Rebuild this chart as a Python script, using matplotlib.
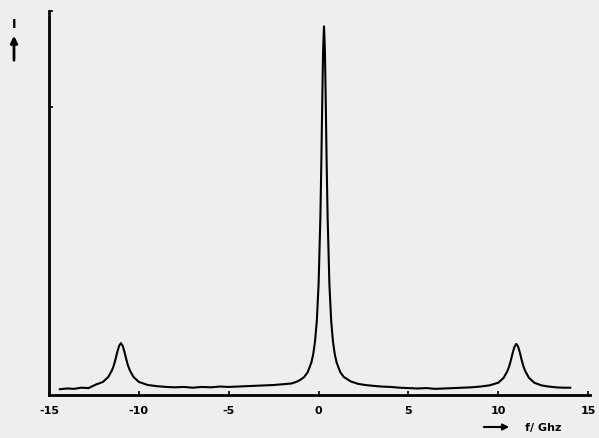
import matplotlib
matplotlib.use("Agg")
import matplotlib.pyplot as plt

# spectrum (f in GHz, intensity in arbitrary units)
freq = [-14.4, -14.0, -13.6, -13.2, -12.8, -12.4, -12.0, -11.7, -11.5, -11.4,
        -11.3, -11.2, -11.1, -11.0, -10.9, -10.8, -10.7, -10.6, -10.5, -10.3,
        -10.0, -9.5, -9.0, -8.5, -8.0, -7.5, -7.0, -6.5, -6.0, -5.5,
        -5.0, -4.5, -4.0, -3.5, -3.0, -2.5, -2.0, -1.5, -1.2, -1.0,
        -0.8, -0.6, -0.4, -0.3, -0.2, -0.1, 0.0, 0.1, 0.15, 0.2,
        0.25, 0.3, 0.35, 0.4, 0.45, 0.5, 0.6, 0.7, 0.8, 0.9,
        1.0, 1.2, 1.4, 1.8, 2.2, 2.6, 3.0, 3.5, 4.0, 4.5,
        5.0, 5.5, 6.0, 6.5, 7.0, 7.5, 8.0, 8.5, 9.0, 9.5,
        10.0, 10.3, 10.5, 10.6, 10.7, 10.8, 10.9, 11.0, 11.1, 11.2,
        11.3, 11.4, 11.5, 11.7, 12.0, 12.4, 12.8, 13.2, 13.6, 14.0]
intensity = [1.5, 1.7, 1.6, 1.9, 1.8, 2.7, 3.4, 4.7, 6.4, 7.6,
             9.3, 11.2, 12.8, 13.5, 12.8, 11.2, 9.3, 7.6, 6.4, 4.7,
             3.4, 2.6, 2.3, 2.1, 2.0, 2.1, 1.9, 2.1, 2.0, 2.2,
             2.1, 2.2, 2.3, 2.4, 2.5, 2.6, 2.8, 3.0, 3.5, 4.0,
             4.7, 6.0, 8.5, 10.6, 13.9, 19.3, 28.9, 46.6, 59.9, 75.6,
             89.9, 96.0, 89.9, 75.6, 59.9, 46.6, 28.9, 19.3, 13.9, 10.6,
             8.5, 6.0, 4.7, 3.5, 2.9, 2.6, 2.4, 2.2, 2.1, 1.9,
             1.8, 1.7, 1.8, 1.6, 1.7, 1.8, 1.9, 2.0, 2.2, 2.5,
             3.2, 4.5, 6.2, 7.4, 9.1, 11.0, 12.6, 13.3, 12.6, 11.0,
             9.1, 7.4, 6.2, 4.5, 3.2, 2.5, 2.2, 2.0, 1.9, 1.9]

xticks = [-15, -10, -5, 0, 5, 10, 15]
xticklabels = ["-15", "-10", "-5", "0", "5", "10", "15"]

W, H = 599, 439
bg = "#eeeeee"
fig = plt.figure(figsize=(W / 100, H / 100), dpi=100, facecolor=bg)
ax = fig.add_axes([49 / W, 43 / H, 541 / W, 384 / H], facecolor=bg)

ax.plot(freq, intensity, color="black", lw=1.5)

ax.set_xlim(-15, 15.1)
ax.set_ylim(0, 100)
ax.spines["top"].set_visible(False)
ax.spines["right"].set_visible(False)
ax.spines["left"].set_linewidth(2.0)
ax.spines["bottom"].set_linewidth(2.0)

ax.set_xticks(xticks)
ax.set_xticklabels(xticklabels, fontsize=8, fontweight="bold")
ax.tick_params(axis="x", direction="in", length=3, width=1.2, pad=7)
ax.set_yticks([75, 100])
ax.set_yticklabels([])
ax.tick_params(axis="y", direction="in", length=3, width=1.2)

# axis labels with arrows, placed in figure pixels like the scan
ax.annotate("", xy=(14 / W, 1 - 34 / H), xytext=(14 / W, 1 - 64 / H),
            xycoords="figure fraction",
            arrowprops=dict(arrowstyle="-|>", color="black", lw=2, mutation_scale=10))
fig.text(14 / W, 1 - 25 / H, "I", fontsize=9, fontweight="bold", ha="center", va="center")

ax.annotate("", xy=(512 / W, 1 - 428 / H), xytext=(481 / W, 1 - 428 / H),
            xycoords="figure fraction",
            arrowprops=dict(arrowstyle="-|>", color="black", lw=1.5, mutation_scale=9))
fig.text(525 / W, 1 - 428 / H, "f/ Ghz", fontsize=8, fontweight="bold", ha="left", va="center")

fig.savefig("out.png", dpi=100, facecolor=bg)
